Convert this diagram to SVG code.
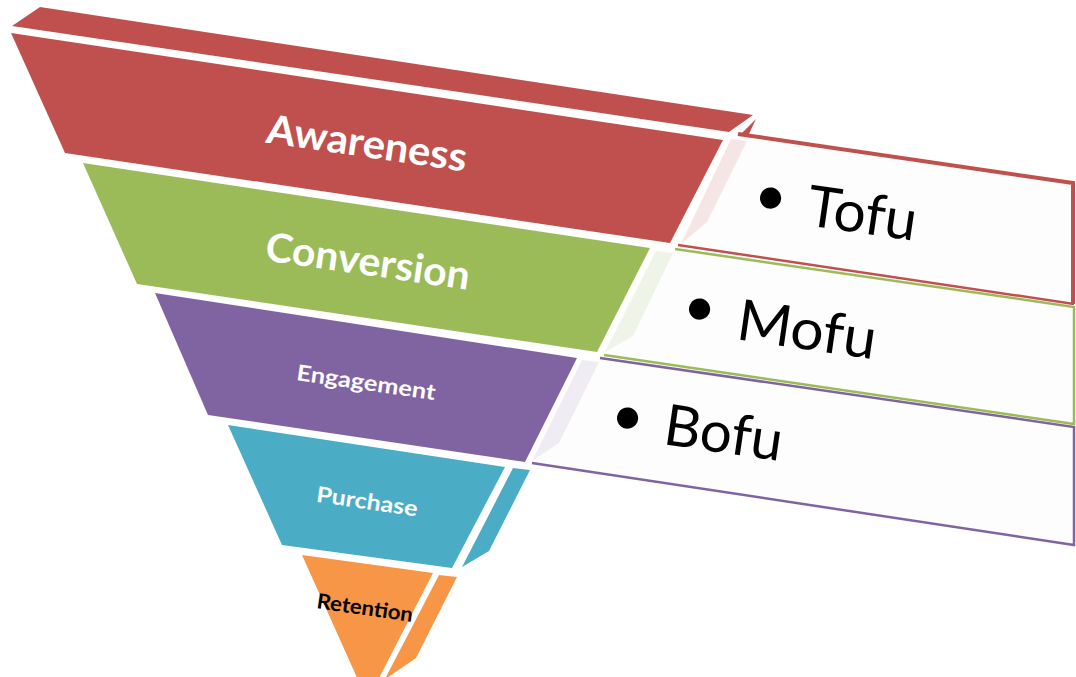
<svg xmlns="http://www.w3.org/2000/svg" width="1076" height="677" viewBox="0 0 1076 677">
<style>
.lbl{font-family:Lato,"Open Sans","Liberation Sans",sans-serif;font-weight:700;text-anchor:middle;fill:#fff}
.item{font-family:Lato,"Open Sans","Liberation Sans",sans-serif;font-weight:400;fill:#000}
.box{fill:#fdfdfd;stroke:none}
.bul{font-family:Lato,"Open Sans","Liberation Sans",sans-serif;text-anchor:middle;fill:#000}
.red{fill:#c0504d}.green{fill:#9bbb59}.purple{fill:#8064a2}.teal{fill:#4bacc6}.orange{fill:#f79646}
</style>
<rect width="1076" height="677" fill="#fff"/>

<g id="box-bofu">
<polygon class="box" points="600,358 1074,427 1074,545 532,463"/>
<polyline points="600,358 1074,427 1074,545 532,463" fill="none" stroke="#8064a2" stroke-width="2.5"/>
<text class="bul" x="625" y="435" font-size="57" transform="rotate(8.3 625 435)">•</text>
<text class="item" x="662" y="444" font-size="57" textLength="119" lengthAdjust="spacingAndGlyphs" transform="rotate(8.3 662 444)">Bofu</text>
</g>

<g id="box-mofu">
<polygon class="box" points="675,249 1074,307 1074,424 604,355"/>
<polyline points="675,249 1074,307 1074,424 604,355" fill="none" stroke="#9bbb59" stroke-width="2.5"/>
<text class="bul" x="697" y="326" font-size="57" transform="rotate(8.3 697 326)">•</text>
<text class="item" x="735" y="339" font-size="57" textLength="140" lengthAdjust="spacingAndGlyphs" transform="rotate(8.3 735 339)">Mofu</text>
</g>

<g id="box-tofu">
<polygon class="box" points="737,134 1074,182 1074,304 678,245"/>
<polyline points="738,134 1073,183 1073,304" fill="none" stroke="#c0504d" stroke-width="4"/>
<line x1="678" y1="245" x2="1074" y2="304" stroke="#c0504d" stroke-width="2.5"/>
<text class="bul" x="768" y="215" font-size="57" transform="rotate(8.3 768 215)">•</text>
<text class="item" x="805" y="225" font-size="57" textLength="110" lengthAdjust="spacingAndGlyphs" transform="rotate(8.3 805 225)">Tofu</text>
</g>

<g id="node-awareness">
<polygon class="red" points="40,7 753,115 729,132 12,26"/>
<polygon class="red" points="756,119 740,135 748,136"/>
<polygon class="red" points="11,33 723,140 670,243 65,153"/>
<polygon fill="#f6e5e5" points="731,139 747,141 707,222 681,244"/>
<text class="lbl" x="365" y="157" font-size="40" textLength="202" lengthAdjust="spacingAndGlyphs" transform="rotate(8.3 365 157)">Awareness</text>
</g>

<g id="node-conversion">
<polygon class="green" points="83,163 650,248 597,352 137,284"/>
<polygon fill="#eff4e8" points="656,251 673,253 633,336 605,352"/>
<text class="lbl" x="366" y="275" font-size="40" textLength="206" lengthAdjust="spacingAndGlyphs" transform="rotate(8.3 366 275)">Conversion</text>
</g>

<g id="node-engagement">
<polygon class="purple" points="155,293 577,358 525,462 208,415"/>
<polygon fill="#efecf4" points="582,360 599,362 559,443 532,461"/>
<text class="lbl" x="365" y="390" font-size="22" textLength="140" lengthAdjust="spacingAndGlyphs" transform="rotate(8.3 365 390)">Engagement</text>
</g>

<g id="node-purchase">
<polygon class="teal" points="228,425 505,467 452,568 282,545"/>
<polygon class="teal" points="513,468 530,470 489,551 462,567"/>
<text class="lbl" x="366" y="509" font-size="22" textLength="102" lengthAdjust="spacingAndGlyphs" transform="rotate(8.3 366 509)">Purchase</text>
</g>

<g id="node-retention">
<polygon class="orange" points="302,555 433,573 377,682 359,682"/>
<polygon class="orange" points="439,575 457,577 416,658 384,680 386,677"/>
<text class="lbl" x="364" y="615" font-size="21" textLength="97" lengthAdjust="spacingAndGlyphs" fill="#000" style="fill:#000" transform="rotate(8.3 364 615)">Retention</text>
</g>
</svg>
